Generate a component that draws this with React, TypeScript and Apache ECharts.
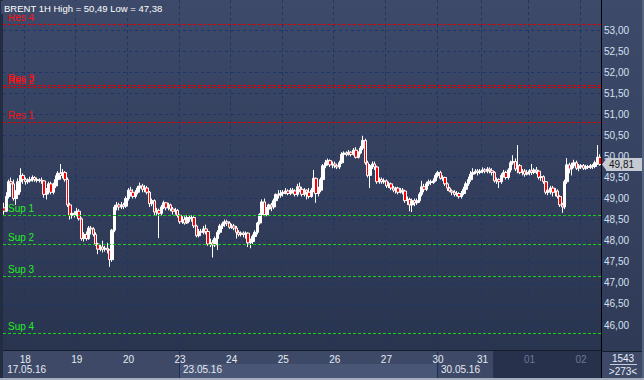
import React, { useEffect, useRef } from "react";
import * as echarts from "echarts";

// ---------- data ----------
const instrument = "BRENT 1H";
const dayDates = ["17.05.16", "18.05.16", "19.05.16", "20.05.16", "23.05.16", "24.05.16", "25.05.16", "26.05.16", "27.05.16", "30.05.16", "31.05.16", "01.06.16", "02.06.16"];
const barsPerDay = [9, 22, 22, 22, 22, 22, 22, 22, 22, 19, 20, 22, 9];
const firstDayStartHour = 14;
const weekStartDates = ["17.05.16", "23.05.16", "30.05.16"];
const dimDates = ["01.06.16", "02.06.16"];
const shadeFromCategory = "31.05.16 06:00";
const cornerTop = "1543";
const cornerBottom = ">273<";

const firstOpen = 48.78;
const closes = [
  48.70, 49.05, 49.40, 49.35, 49.00, 49.10, 49.40, 49.55, 49.45,
  49.40, 49.42, 49.45, 49.50, 49.45, 49.43, 49.44, 49.42, 49.10, 49.20, 49.35, 49.15, 49.30, 49.45, 49.60, 49.55, 49.62, 49.45, 48.85, 48.60, 48.65, 48.62,
  48.70, 48.52, 48.05, 48.15, 48.05, 48.30, 48.28, 48.15, 47.92, 47.80, 47.85, 47.80, 47.82, 47.78, 47.55, 48.25, 48.80, 48.85, 48.80, 48.85, 48.82, 49.00,
  49.20, 49.15, 49.05, 49.15, 49.25, 49.30, 49.22, 49.25, 49.15, 48.88, 48.95, 48.68, 48.72, 48.65, 48.80, 48.90, 48.78, 48.85, 48.75, 48.70, 48.72, 48.60,
  48.45, 48.50, 48.42, 48.55, 48.52, 48.55, 48.35, 48.12, 48.22, 48.20, 48.28, 48.22, 47.92, 47.95, 47.90, 48.05, 48.20, 48.35, 48.40, 48.45, 48.42, 48.32,
  48.35, 48.30, 48.20, 48.15, 48.18, 48.15, 48.18, 47.95, 47.98, 48.10, 48.20, 48.42, 48.62, 48.92, 48.62, 48.75, 48.85, 48.80, 48.95, 49.10, 49.08, 49.12,
  49.15, 49.18, 49.12, 49.20, 49.18, 49.10, 49.28, 49.22, 49.10, 49.20, 49.15, 49.05, 49.20, 49.48, 49.12, 49.20, 49.45, 49.78, 49.85, 49.90, 49.80, 49.82,
  49.78, 49.75, 49.85, 50.05, 50.08, 50.05, 50.10, 50.05, 50.15, 49.98, 50.08, 50.20, 50.38, 49.85, 49.55, 49.78, 49.82, 49.75, 49.40, 49.45, 49.40, 49.42,
  49.30, 49.35, 49.25, 49.20, 49.25, 49.15, 49.20, 49.18, 48.95, 48.98, 48.85, 48.95, 48.90, 48.95, 49.10, 49.28, 49.22, 49.35, 49.40, 49.38, 49.42, 49.55,
  49.62, 49.48, 49.50, 49.35, 49.25, 49.18, 49.15, 49.10, 49.12, 49.05, 49.12, 49.22, 49.35, 49.45, 49.58, 49.62, 49.65, 49.62, 49.65,
  49.68, 49.65, 49.70, 49.66, 49.62, 49.42, 49.45, 49.40, 49.55, 49.62, 49.50, 49.68, 49.85, 49.88, 49.70, 49.78, 49.62, 49.65, 49.58, 49.62,
  49.66, 49.62, 49.68, 49.65, 49.50, 49.52, 49.40, 49.15, 49.20, 49.25, 49.15, 49.18, 49.05, 48.85, 48.80, 49.40, 49.80, 49.70, 49.78, 49.85, 49.72, 49.75,
  49.78, 49.72, 49.76, 49.74, 49.78, 49.76, 49.85, 49.98, 49.81,
];
const lows = [
  48.62, 48.68, 49.00, 49.25, 48.95, 48.85, 49.05, 49.15, 49.35,
  49.33, 49.35, 49.38, 49.40, 49.40, 49.38, 49.38, 49.35, 49.02, 48.98, 49.10, 49.10, 49.10, 49.25, 49.40, 49.45, 49.48, 49.40, 48.80, 48.50, 48.52, 48.55,
  48.58, 48.48, 48.00, 47.98, 48.00, 48.02, 48.15, 48.10, 47.88, 47.68, 47.75, 47.72, 47.74, 47.70, 47.38, 47.50, 48.20, 48.72, 48.72, 48.75, 48.75, 48.78,
  48.95, 49.05, 49.00, 49.00, 49.10, 49.18, 49.15, 49.15, 49.10, 48.80, 48.82, 48.60, 48.60, 48.06, 48.60, 48.75, 48.72, 48.72, 48.70, 48.62, 48.62, 48.55,
  48.40, 48.40, 48.38, 48.40, 48.45, 48.45, 48.30, 48.08, 48.08, 48.12, 48.15, 48.15, 47.88, 47.85, 47.60, 47.85, 47.78, 48.15, 48.28, 48.33, 48.35, 48.28,
  48.28, 48.25, 48.05, 48.10, 48.10, 48.08, 48.05, 47.85, 47.82, 47.92, 48.05, 48.15, 48.38, 48.55, 48.58, 48.58, 48.62, 48.70, 48.75, 48.90, 49.00, 49.02,
  49.05, 49.10, 49.08, 49.08, 49.12, 49.05, 49.05, 49.15, 49.05, 49.05, 48.98, 49.00, 49.02, 49.15, 48.90, 49.05, 49.15, 49.40, 49.72, 49.78, 49.75, 49.72,
  49.72, 49.70, 49.70, 49.82, 50.00, 50.00, 50.02, 50.00, 50.02, 49.95, 49.95, 50.05, 50.15, 49.80, 49.50, 49.25, 49.70, 49.68, 49.35, 49.35, 49.35, 49.35,
  49.25, 49.25, 49.20, 49.15, 49.12, 49.10, 49.12, 49.10, 48.90, 48.85, 48.70, 48.68, 48.82, 48.85, 48.90, 49.05, 49.15, 49.18, 49.30, 49.32, 49.35, 49.40,
  49.50, 49.45, 49.42, 49.30, 49.18, 49.15, 49.08, 49.05, 49.05, 49.00, 49.00, 49.08, 49.18, 49.30, 49.40, 49.55, 49.58, 49.55, 49.58,
  49.60, 49.60, 49.60, 49.60, 49.55, 49.38, 49.35, 49.25, 49.35, 49.50, 49.45, 49.45, 49.62, 49.80, 49.65, 49.60, 49.58, 49.55, 49.52, 49.55,
  49.55, 49.56, 49.58, 49.58, 49.45, 49.42, 49.35, 49.10, 49.08, 49.10, 49.05, 49.05, 49.00, 48.80, 48.66, 48.75, 49.35, 49.60, 49.55, 49.72, 49.68, 49.65,
  49.70, 49.68, 49.68, 49.70, 49.70, 49.70, 49.72, 49.80, 49.78,
];
const highs = [
  48.90, 49.15, 49.45, 49.50, 49.45, 49.20, 49.48, 49.72, 49.60,
  49.50, 49.48, 49.52, 49.55, 49.53, 49.50, 49.48, 49.50, 49.44, 49.25, 49.40, 49.40, 49.38, 49.55, 49.65, 49.82, 49.70, 49.65, 49.50, 48.90, 48.72, 48.70,
  48.78, 48.75, 48.55, 48.20, 48.22, 48.35, 48.35, 48.32, 48.20, 47.95, 47.90, 48.00, 47.88, 47.95, 47.80, 48.28, 48.85, 48.92, 48.90, 48.92, 48.90, 49.05,
  49.25, 49.28, 49.22, 49.20, 49.30, 49.38, 49.35, 49.32, 49.30, 49.18, 49.00, 48.98, 48.78, 48.76, 48.85, 48.95, 48.92, 48.90, 48.88, 48.80, 48.78, 48.75,
  48.62, 48.58, 48.58, 48.60, 48.60, 48.60, 48.58, 48.38, 48.28, 48.28, 48.35, 48.38, 48.25, 48.05, 48.02, 48.10, 48.25, 48.40, 48.45, 48.50, 48.50, 48.46,
  48.40, 48.40, 48.35, 48.25, 48.22, 48.22, 48.22, 48.20, 48.05, 48.15, 48.25, 48.45, 48.65, 48.98, 49.00, 48.80, 48.88, 48.90, 49.00, 49.12, 49.20, 49.20,
  49.20, 49.25, 49.22, 49.25, 49.25, 49.22, 49.35, 49.38, 49.28, 49.25, 49.22, 49.25, 49.25, 49.68, 49.50, 49.28, 49.50, 49.82, 49.92, 49.95, 49.93, 49.88,
  49.88, 49.82, 49.90, 50.10, 50.12, 50.12, 50.15, 50.12, 50.20, 50.22, 50.12, 50.25, 50.49, 50.42, 49.90, 49.82, 49.88, 49.88, 49.78, 49.50, 49.50, 49.48,
  49.45, 49.40, 49.38, 49.30, 49.28, 49.28, 49.25, 49.25, 49.20, 49.05, 49.02, 49.00, 49.00, 49.00, 49.15, 49.42, 49.35, 49.40, 49.45, 49.45, 49.48, 49.60,
  49.66, 49.66, 49.55, 49.52, 49.38, 49.28, 49.22, 49.20, 49.18, 49.15, 49.18, 49.28, 49.40, 49.52, 49.65, 49.72, 49.70, 49.70, 49.70,
  49.74, 49.72, 49.75, 49.74, 49.72, 49.65, 49.50, 49.48, 49.60, 49.68, 49.66, 49.72, 49.90, 50.03, 49.95, 50.27, 49.82, 49.70, 49.70, 49.68,
  49.70, 49.82, 49.72, 49.75, 49.68, 49.58, 49.55, 49.42, 49.25, 49.30, 49.30, 49.25, 49.22, 49.08, 48.90, 49.45, 49.96, 49.85, 49.85, 49.92, 49.90, 49.82,
  49.82, 49.82, 49.80, 49.80, 49.82, 49.82, 49.90, 50.27, 50.05,
];

const levelNames = ["Res 4", "Res 3", "Res 2", "Res 1", "Sup 1", "Sup 2", "Sup 3", "Sup 4"];
const levelValues = [53.13, 51.69, 51.64, 50.81, 48.61, 47.91, 47.16, 45.8];

const yTickMin = 46;
const yTickMax = 53;
const yTickStep = 0.5;

// ---------- derived ----------
const categories: string[] = [];
const dayStartIdx = new Set<number>();
const weekStartIdx = new Set<number>();
dayDates.forEach((d, di) => {
  const start = di === 0 ? firstDayStartHour : 1;
  for (let k = 0; k < barsPerDay[di]; k++) {
    if (k === 0) {
      dayStartIdx.add(categories.length);
      if (weekStartDates.includes(d)) weekStartIdx.add(categories.length);
    }
    categories.push(`${d} ${String(start + k).padStart(2, "0")}:00`);
  }
});
const candles = closes.map((c, i) => [i === 0 ? firstOpen : closes[i - 1], c, lows[i], highs[i]]);
const fmt = (v: number) => v.toFixed(2).replace(".", ",");
const titleText = `${instrument} High = ${fmt(Math.max(...highs))} Low = ${fmt(Math.min(...lows))}`;
const lastClose = closes[closes.length - 1];

// ---------- layout ----------
const W = 644, H = 380;
const plotL = 3, plotR = 601, plotB = 350;
const gridBTop = 30, gridBBottom = 325;
const pxPerUnit = (gridBBottom - gridBTop) / (yTickMax - yTickMin);
const yMaxA = yTickMax + gridBTop / pxPerUnit;
const yMinA = yTickMin - (plotB - gridBBottom) / pxPerUnit;
const FONT = "'Liberation Sans', Arial, sans-serif";
const GRIDLINE = "#1d3665";
const PRICE_BOX = "#c6cad3";

export default function App() {
  const ref = useRef<HTMLDivElement>(null);
  useEffect(() => {
    const chart = echarts.init(ref.current!, undefined, { renderer: "svg" });
    const option: any = {
      animation: false,
      backgroundColor: "#2e3956",
      textStyle: { fontFamily: FONT },
      title: {
        text: titleText,
        left: 1,
        top: 1,
        padding: [2, 3, 1, 3],
        backgroundColor: "#3c4969",
        textStyle: { color: "#ffffff", fontSize: 9.5, fontWeight: "normal", fontFamily: FONT },
        z: 20,
      },
      grid: [
        { left: plotL, right: W - plotR, top: 0, bottom: H - plotB },
        { left: plotL, right: W - plotR, top: gridBTop, bottom: H - gridBBottom },
      ],
      xAxis: [
        {
          type: "category",
          gridIndex: 0,
          data: categories,
          boundaryGap: true,
          axisLine: { show: true, lineStyle: { color: "#141c2c", width: 1 } },
          axisTick: {
            show: true,
            interval: (i: number) => weekStartIdx.has(i) && i > 0,
            length: 28,
            lineStyle: { color: "#1c2f55", width: 1 },
          },
          axisLabel: {
            interval: (i: number) => dayStartIdx.has(i) && i > 0,
            formatter: (v: string) => v.slice(0, 2),
            color: (v: string) => (dimDates.includes(String(v).slice(0, 8)) ? "#6b7898" : "#e6ebf4"),
            fontSize: 10,
            margin: 4,
            fontFamily: FONT,
          },
          splitLine: {
            show: true,
            interval: (i: number) => dayStartIdx.has(i) && i > 0,
            lineStyle: { color: GRIDLINE, type: [3, 3], width: 1 },
          },
        },
        {
          type: "category",
          gridIndex: 0,
          data: categories,
          boundaryGap: true,
          position: "bottom",
          offset: 11,
          axisLine: { show: false },
          axisTick: { show: false },
          splitLine: { show: false },
          axisLabel: {
            interval: (i: number) => weekStartIdx.has(i),
            formatter: (v: string) => v.slice(0, 8),
            align: "left",
            padding: [0, 0, 0, 3],
            color: "#e6ebf4",
            fontSize: 10,
            margin: 3,
            fontFamily: FONT,
          },
        },
        { type: "value", gridIndex: 1, show: false, min: 0, max: 1 },
      ],
      yAxis: [
        { type: "value", gridIndex: 0, min: yMinA, max: yMaxA, show: false },
        {
          type: "value",
          gridIndex: 1,
          position: "right",
          min: yTickMin,
          max: yTickMax,
          interval: yTickStep,
          axisLine: { show: false },
          axisTick: { show: false },
          splitLine: { show: true, lineStyle: { color: GRIDLINE, type: [3, 3], width: 1 } },
          axisLabel: { formatter: (v: number) => fmt(v), color: "#d6e0f0", fontSize: 10, margin: 3, fontFamily: FONT },
        },
      ],
      series: [
        {
          type: "candlestick",
          xAxisIndex: 0,
          yAxisIndex: 0,
          data: candles,
          barWidth: 3,
          itemStyle: { color: "#ffffff", color0: "#ff0000", borderColor: "#ffffff", borderColor0: "#ffffff", borderWidth: 1 },
          markLine: {
            silent: true,
            symbol: ["none", "none"],
            animation: false,
            data: [
              ...levelNames.map((n, k) => {
                const isRes = n.startsWith("Res");
                return {
                  yAxis: levelValues[k],
                  lineStyle: { color: isRes ? "#e00000" : "#18d018", type: [3, 2], width: 1 },
                  label: {
                    show: true,
                    position: "insideStartTop",
                    formatter: n,
                    color: isRes ? "#ff1010" : "#22ee22",
                    fontSize: 10,
                    distance: [5, 2],
                    fontFamily: FONT,
                  },
                };
              }),
              {
                yAxis: lastClose,
                lineStyle: { color: "rgba(0,0,0,0)", width: 0 },
                label: {
                  show: true,
                  position: "end",
                  formatter: fmt(lastClose),
                  color: "#151515",
                  backgroundColor: PRICE_BOX,
                  padding: [2, 10, 1, 3],
                  fontSize: 10,
                  distance: 5,
                  fontFamily: FONT,
                },
              },
            ],
          },
        },
      ],
    };
    chart.setOption(option);

    const cx = (i: number) => chart.convertToPixel({ xAxisIndex: 0 }, i) as number;
    const band = cx(1) - cx(0);
    const edge = (i: number) => cx(i) - band / 2;
    const wkIdx = Array.from(weekStartIdx).sort((a, b) => a - b);
    const lightFrom = edge(wkIdx[1]);
    const lightTo = edge(wkIdx[2]);
    const shadeFrom = edge(categories.indexOf(shadeFromCategory));
    const py = chart.convertToPixel({ yAxisIndex: 0 }, lastClose) as number;
    const grad = (a: string, b: string) =>
      new echarts.graphic.LinearGradient(0, 0, 0, 1, [
        { offset: 0, color: a },
        { offset: 1, color: b },
      ]);

    chart.setOption({
      graphic: [
        { type: "rect", id: "plotbg", silent: true, z: -10, shape: { x: plotL, y: 0, width: plotR - plotL, height: plotB }, style: { fill: grad("#3d4a6a", "#29344f") } },
        { type: "rect", id: "rightbg", silent: true, z: -10, shape: { x: plotR, y: 0, width: W - plotR, height: plotB + 1 }, style: { fill: grad("#3d4a6a", "#2f3a57") } },
        { type: "rect", id: "axisbg", silent: true, z: -10, shape: { x: 0, y: plotB, width: plotR, height: H - plotB }, style: { fill: "#3d4967" } },
        { type: "rect", id: "lightwk", silent: true, z: -9, shape: { x: lightFrom, y: 364, width: lightTo - lightFrom, height: 14 }, style: { fill: "#4a5676" } },
        { type: "rect", id: "shade", silent: true, z: -9, shape: { x: shadeFrom, y: plotB + 1, width: plotR - shadeFrom, height: 27 }, style: { fill: "#27314c" } },
        { type: "rect", id: "cornerbg", silent: true, z: -9, shape: { x: plotR, y: plotB + 1, width: W - plotR, height: 27 }, style: { fill: "#3d4967" } },
        { type: "polygon", id: "pricetip", silent: true, z: 4, shape: { points: [[plotR + 1, py], [plotR + 6, py - 6.5], [plotR + 6, py + 6.5]] }, style: { fill: PRICE_BOX } },
        { type: "rect", id: "leftedge", silent: true, z: 10, shape: { x: 0, y: 0, width: plotL, height: H }, style: { fill: "#232c40" } },
        { type: "rect", id: "vline", silent: true, z: 10, shape: { x: plotR, y: 0, width: 1, height: H - 2 }, style: { fill: "#000000" } },
        { type: "rect", id: "hsep", silent: true, z: 10, shape: { x: plotR, y: plotB + 1, width: W - plotR, height: 1 }, style: { fill: "#141c2c" } },
        { type: "rect", id: "bottomedge", silent: true, z: 10, shape: { x: 0, y: H - 2, width: W, height: 2 }, style: { fill: "#a6aebe" } },
        { type: "rect", id: "rightedge", silent: true, z: 10, shape: { x: W - 2, y: 0, width: 2, height: H - 2 }, style: { fill: "#55637f" } },
        { type: "text", id: "c1", silent: true, z: 11, style: { x: 623, y: 358, text: cornerTop, fill: "#e8eef8", font: `10px ${FONT}`, textAlign: "center", textVerticalAlign: "middle" } },
        { type: "rect", id: "cline", silent: true, z: 11, shape: { x: 610, y: 364, width: 27, height: 1 }, style: { fill: "#c5cdda" } },
        { type: "text", id: "c2", silent: true, z: 11, style: { x: 623, y: 371, text: cornerBottom, fill: "#e8eef8", font: `10px ${FONT}`, textAlign: "center", textVerticalAlign: "middle" } },
      ],
    });
    return () => chart.dispose();
  }, []);
  return (
    <div>
      <style>{"html,body{margin:0;padding:0;background:#2e3956;}"}</style>
      <div ref={ref} style={{ width: W, height: H }} />
    </div>
  );
}
